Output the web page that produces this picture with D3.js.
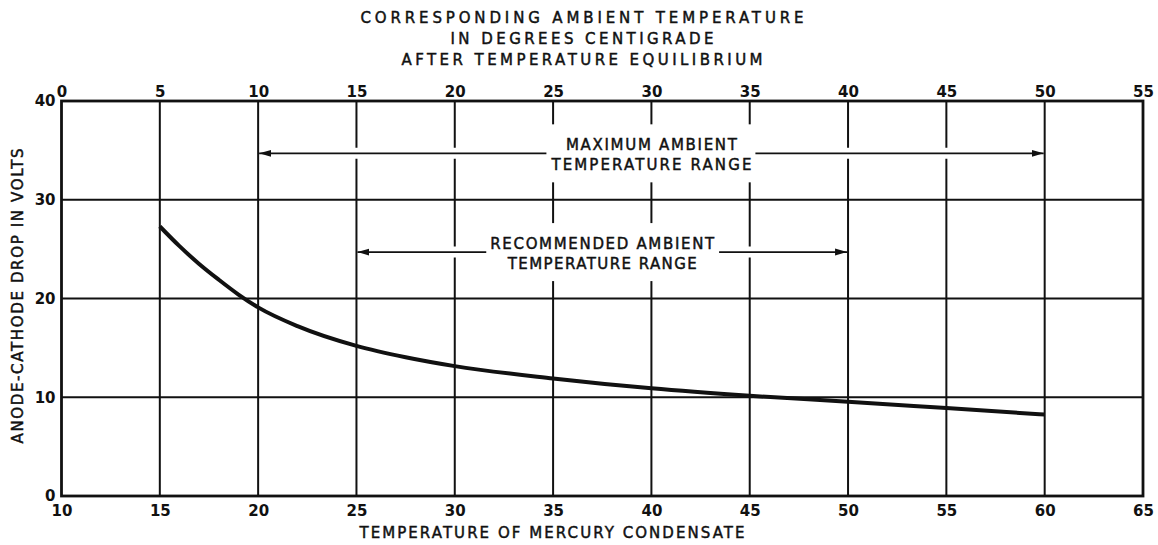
<!DOCTYPE html>
<html>
<head>
<meta charset="utf-8">
<script src="https://cdn.jsdelivr.net/npm/d3@7"></script>
<style>
  html, body { margin: 0; padding: 0; background: #fff; }
  svg { display: block; }
  text { font-family: "DejaVu Sans", sans-serif; fill: #111; }
  .lbl { stroke: #111; stroke-width: 0.45px; }
</style>
</head>
<body>
<svg width="1158" height="545"></svg>
<script>
// mercury condensate temperature (bottom axis) vs anode-cathode drop
const condensateTemp = [15, 16, 17, 18, 19, 20, 22, 25, 27.5, 30, 35, 40, 45, 50, 55, 60];
const anodeDrop      = [27.3, 25.3, 23.5, 21.9, 20.4, 19.1, 17.2, 15.2, 14.05, 13.15, 11.9, 10.9, 10.15, 9.55, 8.9, 8.25];

const bottomTicks = [10, 15, 20, 25, 30, 35, 40, 45, 50, 55, 60, 65];
const topTicks    = [0, 5, 10, 15, 20, 25, 30, 35, 40, 45, 50, 55];
const voltTicks   = [0, 10, 20, 30, 40];

// ranges in condensate temperature, and the volt level each arrow sits at
const maxRange = [20, 60], maxLevel = 34.7;
const recRange = [25, 50], recLevel = 24.7;

const titleLines = ["CORRESPONDING AMBIENT TEMPERATURE", "IN DEGREES CENTIGRADE", "AFTER TEMPERATURE EQUILIBRIUM"];
const maxLabel = ["MAXIMUM AMBIENT", "TEMPERATURE RANGE"];
const recLabel = ["RECOMMENDED AMBIENT", "TEMPERATURE RANGE"];

const svg = d3.select("svg");

const x = d3.scaleLinear().domain([10, 65]).range([61.5, 1143]);
const xTop = d3.scaleLinear().domain([0, 55]).range([61.5, 1143]);
const y = d3.scaleLinear().domain([0, 40]).range([496, 101]);

// grid
const grid = svg.append("g").attr("stroke", "#111").attr("stroke-width", 2);
grid.selectAll("line.v")
  .data(bottomTicks.slice(1, -1))
  .join("line")
    .attr("x1", d => x(d)).attr("x2", d => x(d))
    .attr("y1", y(0)).attr("y2", y(40));
grid.selectAll("line.h")
  .data(voltTicks.slice(1, -1))
  .join("line").attr("class", "h")
    .attr("x1", x(10)).attr("x2", x(65))
    .attr("y1", d => y(d)).attr("y2", d => y(d));

// white halos so the grid breaks around arrows and labels
const halo = svg.append("g");
const ann = svg.append("g");

svg.append("defs").append("marker")
    .attr("id", "head")
    .attr("markerUnits", "userSpaceOnUse")
    .attr("viewBox", "0 0 12 8")
    .attr("refX", 12).attr("refY", 4)
    .attr("markerWidth", 12).attr("markerHeight", 8)
    .attr("orient", "auto-start-reverse")
  .append("path")
    .attr("d", "M0,0.5 L12,4 L0,7.5 Z")
    .attr("fill", "#111");

function rangeNote(range, level, lines, widths) {
  const x1 = x(range[0]), x2 = x(range[1]), yy = y(level);
  const cx = (x1 + x2) / 2;
  halo.append("line")
    .attr("x1", x1 + 2).attr("x2", x2 - 2)
    .attr("y1", yy).attr("y2", yy)
    .attr("stroke", "#fff").attr("stroke-width", 11);

  const t = ann.append("g");
  lines.forEach((s, i) => {
    t.append("text").attr("class", "lbl")
      .attr("x", cx).attr("y", yy + (i === 0 ? -3 : 17))
      .attr("text-anchor", "middle")
      .attr("font-size", "15px")
      .attr("textLength", widths[i])
      .attr("lengthAdjust", "spacing")
      .text(s);
  });
  const bb = t.node().getBBox();
  halo.append("rect")
    .attr("x", bb.x - 6).attr("width", bb.width + 12)
    .attr("y", bb.y - 12).attr("height", bb.height + 20)
    .attr("fill", "#fff");

  // arrow in two pieces, broken by the label
  const left = bb.x - 4, right = bb.x + bb.width + 4;
  ann.append("line")
    .attr("x1", left).attr("x2", x1 + 1)
    .attr("y1", yy).attr("y2", yy)
    .attr("stroke", "#111").attr("stroke-width", 1.8)
    .attr("marker-end", "url(#head)");
  ann.append("line")
    .attr("x1", right).attr("x2", x2 - 1)
    .attr("y1", yy).attr("y2", yy)
    .attr("stroke", "#111").attr("stroke-width", 1.8)
    .attr("marker-end", "url(#head)");
}

rangeNote(maxRange, maxLevel, maxLabel, [171, 200]);
rangeNote(recRange, recLevel, recLabel, [224, 189]);

// frame
svg.append("rect")
  .attr("x", x(10)).attr("y", y(40))
  .attr("width", x(65) - x(10)).attr("height", y(0) - y(40))
  .attr("fill", "none").attr("stroke", "#111").attr("stroke-width", 2.8);

// curve
const line = d3.line()
  .x((d, i) => x(condensateTemp[i]))
  .y(d => y(d))
  .curve(d3.curveMonotoneX);
svg.append("path")
  .datum(anodeDrop)
  .attr("d", line)
  .attr("fill", "none")
  .attr("stroke", "#111")
  .attr("stroke-width", 4);

// axes
function styleAxis(g) {
  g.select(".domain").remove();
  g.selectAll("text")
    .attr("font-size", "15px")
    .attr("font-weight", "bold")
    .attr("fill", "#111")
    .attr("font-family", "DejaVu Sans, sans-serif");
}
svg.append("g")
  .attr("transform", `translate(0,${y(0)})`)
  .call(d3.axisBottom(x).tickValues(bottomTicks).tickSize(0).tickPadding(9))
  .call(styleAxis);
svg.append("g")
  .attr("transform", `translate(0,${y(40)})`)
  .call(d3.axisTop(xTop).tickValues(topTicks).tickSize(0).tickPadding(4))
  .call(styleAxis);
svg.append("g")
  .attr("transform", `translate(${x(10)},0)`)
  .call(d3.axisLeft(y).tickValues(voltTicks).tickSize(0).tickPadding(6))
  .call(styleAxis);

// titles
const titleW = [443, 263, 361];
titleLines.forEach((s, i) => {
  svg.append("text").attr("class", "lbl")
    .attr("x", 582).attr("y", 23 + i * 21)
    .attr("text-anchor", "middle")
    .attr("font-size", "15px")
    .attr("textLength", titleW[i])
    .attr("lengthAdjust", "spacing")
    .text(s);
});

svg.append("text").attr("class", "lbl")
  .attr("x", 552).attr("y", 538)
  .attr("text-anchor", "middle")
  .attr("font-size", "15px")
  .attr("textLength", 385)
  .attr("lengthAdjust", "spacing")
  .text("TEMPERATURE OF MERCURY CONDENSATE");

svg.append("text").attr("class", "lbl")
  .attr("transform", "translate(23,296) rotate(-90)")
  .attr("text-anchor", "middle")
  .attr("font-size", "15px")
  .attr("textLength", 295)
  .attr("lengthAdjust", "spacing")
  .text("ANODE-CATHODE DROP IN VOLTS");
</script>
</body>
</html>
